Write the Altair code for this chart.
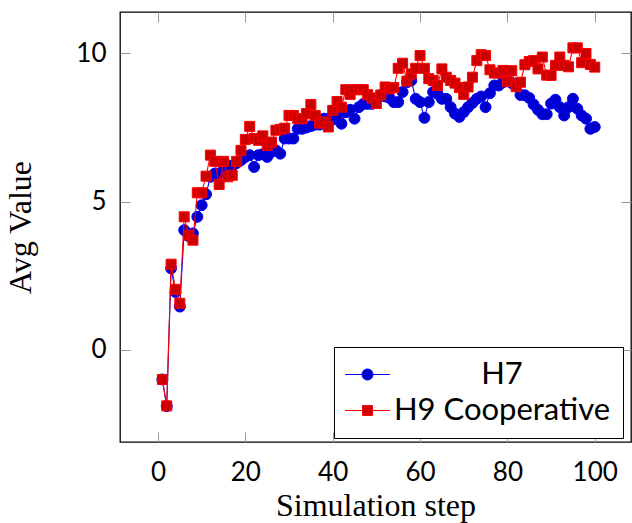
import altair as alt
import pandas as pd

steps = list(range(1, 101))

h7 = [-1.0, -1.9, 2.75, 1.95, 1.46, 4.04, 3.84, 3.93, 4.49, 4.88,
      5.25, 5.84, 5.95, 5.95, 6.06, 6.23, 6.2, 6.3, 6.40, 6.51,
      6.57, 6.17, 6.57, 6.6, 6.51, 6.68, 6.73, 6.62, 7.13, 7.13,
      7.13, 7.46, 7.46, 7.5, 7.55, 7.6, 7.6, 7.8, 7.8, 7.77,
      7.91, 7.63, 8.02, 8.1, 7.80, 8.19, 8.3, 8.3, 8.3, 8.45,
      8.59, 8.55, 8.5, 8.36, 8.36, 8.70, 9.03, 9.09, 8.47, 8.36,
      7.83, 8.36, 8.70, 8.64, 8.47, 8.47, 8.19, 7.97, 7.86, 8.02,
      8.19, 8.33, 8.47, 8.55, 8.19, 8.66, 8.92, 8.92, 9.03, 9.09,
      9.0, 8.9, 8.6, 8.59, 8.5, 8.28, 8.1, 7.95, 7.95, 8.31,
      8.44, 8.19, 7.91, 8.19, 8.47, 8.14, 7.91, 7.80, 7.46, 7.52]

h9 = [-1.0, -1.89, 2.89, 2.04, 1.57, 4.49, 3.87, 3.70, 5.30, 5.30,
      5.86, 6.57, 6.36, 5.58, 6.36, 5.84, 5.89, 6.36, 6.73, 7.10,
      7.54, 7.13, 7.07, 7.22, 6.90, 7.01, 7.41, 7.44, 7.48, 7.91,
      7.91, 7.80, 7.80, 7.97, 8.28, 7.91, 7.65, 7.69, 7.52, 8.08,
      8.38, 8.19, 8.78, 8.62, 8.78, 8.78, 8.78, 8.61, 8.5, 8.31,
      8.6, 8.87, 8.81, 8.85, 9.50, 9.67, 9.07, 9.31, 9.50, 9.93,
      9.50, 9.15, 9.09, 8.92, 9.48, 9.20, 9.09, 9.0, 8.85, 8.62,
      8.87, 9.2, 9.76, 9.96, 9.93, 9.45, 9.34, 9.34, 9.43, 9.05,
      9.42, 8.88, 9.03, 9.62, 9.73, 9.76, 9.48, 9.88, 9.27, 9.26,
      9.6, 9.88, 9.6, 9.55, 10.19, 10.19, 9.69, 10.0, 9.63, 9.54]

series_names = ["H7", "H9 Cooperative"]
x_ticks = [0, 20, 40, 60, 80, 100]
y_ticks = [0, 5, 10]

df = pd.DataFrame({
    "step": steps + steps,
    "value": h7 + h9,
    "series": [series_names[0]] * len(steps) + [series_names[1]] * len(steps),
})

XD = [-8.7, 108.3]
YD = [-3.11, 11.4]
TICK = 10

xs = alt.Scale(domain=XD, nice=False, zero=False)
ys = alt.Scale(domain=YD, nice=False, zero=False)

x_bottom = alt.X("step:Q", scale=xs, axis=alt.Axis(
    orient="bottom", values=x_ticks, offset=-TICK, tickSize=TICK, domain=False,
    grid=False, title="Simulation step", labelPadding=17,
    titleBaseline="alphabetic", titleY=83))
y_left = alt.Y("value:Q", scale=ys, axis=alt.Axis(
    orient="left", values=y_ticks, offset=-TICK, tickSize=TICK, domain=False,
    grid=False, title="Avg Value", labelPadding=14,
    titleBaseline="alphabetic", titleX=-100))
x_top = alt.X("step:Q", scale=xs, axis=alt.Axis(
    orient="top", values=x_ticks, offset=-TICK, tickSize=TICK, domain=False,
    grid=False, labels=False, title=None))
y_right = alt.Y("value:Q", scale=ys, axis=alt.Axis(
    orient="right", values=y_ticks, offset=-TICK, tickSize=TICK, domain=False,
    grid=False, labels=False, title=None))
x_none = alt.X("step:Q", scale=xs, axis=None)
y_none = alt.Y("value:Q", scale=ys, axis=None)

base = alt.Chart(df)

blue_line = base.transform_filter(alt.datum.series == "H7").mark_line(
    color="#0000FF", strokeWidth=1.1).encode(x=x_bottom, y=y_left, order="step:Q")
blue_pts = base.transform_filter(alt.datum.series == "H7").mark_point(
    shape="circle", filled=True, fill="#0000CC", stroke="#0000FF", strokeWidth=1,
    size=120, opacity=1).encode(x=x_none, y=y_none)
red_line = base.transform_filter(alt.datum.series == "H9 Cooperative").mark_line(
    color="#FF0000", strokeWidth=1.1).encode(x=x_top, y=y_right, order="step:Q")
red_pts = base.transform_filter(alt.datum.series == "H9 Cooperative").mark_point(
    shape="square", filled=True, fill="#CC0000", stroke="#FF0000", strokeWidth=1,
    size=100, opacity=1).encode(x=x_none, y=y_none)

path_circle = ("M-3.75,0L-0.92,0M0.92,0L3.75,0"
               "M0.92,0A0.92,0.92,0,1,1,-0.92,0A0.92,0.92,0,1,1,0.92,0Z")
path_square = ("M-3.75,0L-0.83,0M0.83,0L3.75,0"
               "M-0.83,-0.83L0.83,-0.83L0.83,0.83L-0.83,0.83Z")

legend_layer = base.transform_filter("false").mark_point(
    filled=True, opacity=1, size=144, strokeWidth=1).encode(
    x=x_none, y=y_none,
    shape=alt.Shape("series:N", scale=alt.Scale(domain=series_names, range=[path_circle, path_square]),
                    legend=alt.Legend(title=None)),
    fill=alt.Fill("series:N", scale=alt.Scale(domain=series_names, range=["#0000CC", "#CC0000"]),
                  legend=alt.Legend(title=None)),
    stroke=alt.Stroke("series:N", scale=alt.Scale(domain=series_names, range=["#0000FF", "#FF0000"]),
                      legend=alt.Legend(title=None)),
)

chart = alt.layer(blue_line, blue_pts, red_line, red_pts, legend_layer).resolve_axis(
    x="independent", y="independent"
).properties(
    width=511, height=430,
    autosize=alt.AutoSizeParams(type="none"),
    padding={"left": 120, "top": 12, "right": 1, "bottom": 81},
    background="white",
).configure_view(
    stroke="black", strokeWidth=1.3
).configure_axis(
    labelFont="Lato", labelFontSize=26, labelColor="black",
    titleFont="Liberation Serif", titleFontSize=32, titleFontWeight="normal", titleColor="black",
    tickColor="#999999", tickWidth=1,
).configure_legend(
    orient="none", legendX=214, legendY=335,
    strokeColor="black", fillColor="white", padding=12,
    labelFont="Lato", labelFontSize=31, labelColor="black", labelLimit=400,
    symbolSize=144, symbolStrokeWidth=1, symbolOpacity=1,
    rowPadding=4, labelAlign="center", labelOffset=119, symbolOffset=6,
    cornerRadius=0,
)

chart.save("out.html", embed_options={"renderer": "svg", "actions": False})
